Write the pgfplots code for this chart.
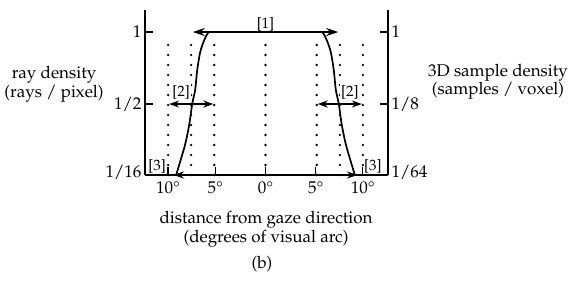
\documentclass[border=0pt]{standalone}
\usepackage[T1]{fontenc}
\usepackage{mathpazo}
\usepackage{textcomp}
\usepackage{pgfplots}
\pgfplotsset{compat=1.18}
\usetikzlibrary{arrows.meta}

\pgfplotsset{
  base/.style={
    at={(145pt,106pt)}, anchor=south west, scale only axis,
    width=243pt, height=165pt,
    xmin=-12, xmax=12.2, ymin=0.007, ymax=1.153,
    axis line style={line width=1.8pt,-},
    tick align=inside, major tick length=8pt,
    tick style={line width=1.2pt, black},
    tick label style={font=\fontsize{17}{18}\selectfont},
    clip=false,
  },
  dots/.style={black, line width=2.6pt, dash pattern=on 0pt off 10pt, line cap=round, forget plot},
}

\begin{document}
\begin{tikzpicture}[x=1pt,y=1pt]
\path[use as bounding box] (0,0) rectangle (568,281);
\begin{axis}[base,
  axis x line*=bottom, axis y line*=left,
  xtick={-9.7,-5,0,5,9.7},
  xticklabels={10\textdegree,5\textdegree,0\textdegree,5\textdegree,10\textdegree},
  xticklabel style={yshift=-3pt},
  ytick={0.5,1}, yticklabels={1/2,1},
  extra y ticks={0.007}, extra y tick labels={1/16},
  extra y tick style={yticklabel style={yshift=3pt}},
]
% dotted guide lines
\addplot[dots] coordinates {(-9.7,0.007) (-9.7,0.93)};
\addplot[dots] coordinates {(-7.4,0.007) (-7.4,0.93)};
\addplot[dots] coordinates {(-5.1,0.007) (-5.1,0.93)};
\addplot[dots] coordinates {(0,0.007) (0,0.93)};
\addplot[dots] coordinates {(5.1,0.007) (5.1,0.93)};
\addplot[dots] coordinates {(7.4,0.007) (7.4,0.93)};
\addplot[dots] coordinates {(9.7,0.007) (9.7,0.93)};
% density curve
\addplot[black, line width=1.7pt, smooth, tension=0.5] coordinates {
 (-8.9,0.007) (-8.45,0.111) (-8.0,0.22) (-7.6,0.354) (-7.3,0.5)
 (-7.0,0.6) (-6.8,0.736) (-6.5,0.861) (-6.1,0.944) (-5.7,0.995) (-5.2,1.0)
 (5.2,1.0) (5.7,0.995) (6.1,0.944) (6.5,0.861) (6.8,0.736) (7.0,0.6)
 (7.3,0.5) (7.6,0.354) (8.0,0.22) (8.45,0.111) (8.9,0.007)};
% annotation arrows
\addplot[black, line width=2.4pt, {Stealth[length=12pt,width=8pt]}-{Stealth[length=12pt,width=8pt]}]
  coordinates {(-7.25,1) (7.25,1)};
\addplot[black, line width=2.2pt, {Stealth[length=10pt,width=7pt]}-{Stealth[length=10pt,width=7pt]}]
  coordinates {(-9.6,0.5) (-5.2,0.5)};
\addplot[black, line width=2.2pt, {Stealth[length=10pt,width=7pt]}-{Stealth[length=10pt,width=7pt]}]
  coordinates {(5.2,0.5) (9.6,0.5)};
\addplot[black, line width=2.2pt, -{Stealth[length=11pt,width=7pt]}]
  coordinates {(-7.4,0.007) (-9.2,0.007)};
\addplot[black, line width=2.2pt, -{Stealth[length=11pt,width=7pt]}]
  coordinates {(7.4,0.007) (9.2,0.007)};
\node[font=\fontsize{15}{17}\selectfont] at (axis cs:0,1.056) {[1]};
\node[font=\fontsize{15}{17}\selectfont, fill=white, inner sep=1pt] at (axis cs:-8.4,0.583) {[2]};
\node[font=\fontsize{15}{17}\selectfont, fill=white, inner sep=1pt] at (axis cs:8.4,0.583) {[2]};
\node[font=\fontsize{15}{17}\selectfont] at (axis cs:-10.8,0.066) {[3]};
\node[font=\fontsize{15}{17}\selectfont] at (axis cs:10.7,0.066) {[3]};
\end{axis}
\begin{axis}[base,
  axis x line=none, axis y line*=right,
  ytick={0.5,1}, yticklabels={1/8,1},
  extra y ticks={0.007}, extra y tick labels={1/64},
  extra y tick style={yticklabel style={yshift=3pt}},
]
\end{axis}
\node[align=center, font=\fontsize{17}{18.5}\selectfont] at (54,196.5) {ray density\\(rays / pixel)};
\node[align=center, font=\fontsize{17}{18.5}\selectfont] at (498,199) {3D sample density\\(samples / voxel)};
\node[align=center, font=\fontsize{17}{18.5}\selectfont] at (266,52) {distance from gaze direction\\(degrees of visual arc)};
\node[font=\fontsize{17}{18.5}\selectfont] at (262,17) {(b)};
\end{tikzpicture}
\end{document}
